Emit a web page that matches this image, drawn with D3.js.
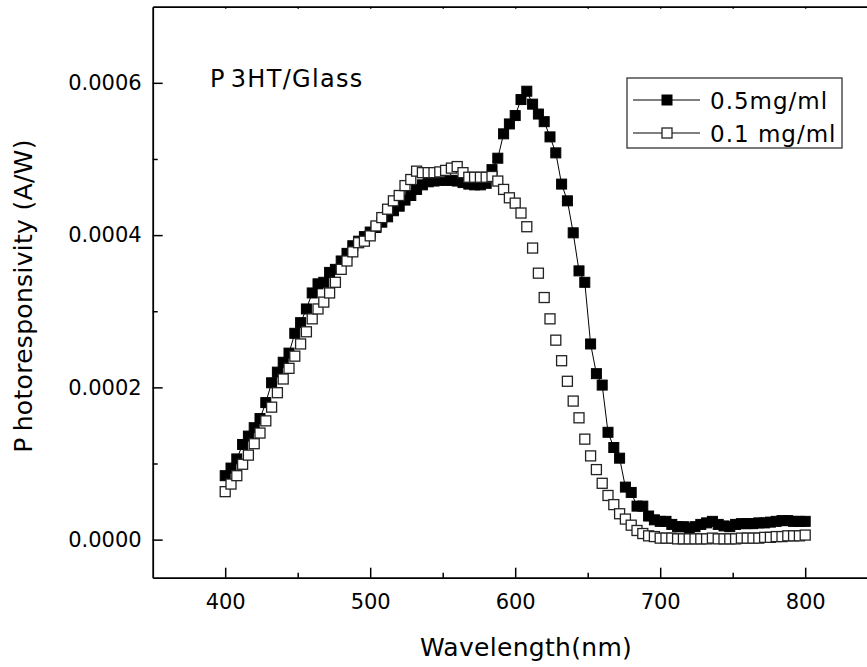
<!DOCTYPE html>
<html>
<head>
<meta charset="utf-8">
<script src="https://cdn.jsdelivr.net/npm/d3@7/dist/d3.min.js"></script>
<style>
    body { margin: 0; background: #fff; }
    text { font-family: "DejaVu Sans", Verdana, sans-serif; fill: #000; }
</style>
</head>
<body>
<svg id="chart" width="867" height="667"></svg>
<script>
// Wavelength grid (nm)
const wavelengths = [
    400, 404, 408, 412, 416, 420, 424, 428, 432, 436,
    440, 444, 448, 452, 456, 460, 464, 468, 472, 476,
    480, 484, 488, 492, 496, 500, 504, 508, 512, 516,
    520, 524, 528, 532, 536, 540, 544, 548, 552, 556,
    560, 564, 568, 572, 576, 580, 584, 588, 592, 596,
    600, 604, 608, 612, 616, 620, 624, 628, 632, 636,
    640, 644, 648, 652, 656, 660, 664, 668, 672, 676,
    680, 684, 688, 692, 696, 700, 704, 708, 712, 716,
    720, 724, 728, 732, 736, 740, 744, 748, 752, 756,
    760, 764, 768, 772, 776, 780, 784, 788, 792, 796,
    800
];

// Photoresponsivity in units of 1e-6 A/W
const conc05 = [
    84, 94, 106, 125, 136, 147, 159, 180, 206, 220,
    233, 245, 271, 285, 303, 324, 336, 338, 351, 355,
    366, 376, 386, 392, 398, 404, 410, 417, 424, 432,
    438, 446, 452, 460, 466, 470, 471, 472, 472, 472,
    471, 469, 467, 466, 466, 468, 486, 501, 533, 546,
    557, 578, 589, 572, 559, 549, 529, 508, 467, 445,
    403, 353, 338, 257, 218, 203, 141, 121, 107, 69,
    62, 44, 44, 31, 26, 24, 24, 20, 17, 17,
    15, 17, 20, 22, 24, 20, 18, 17, 20, 21,
    21, 21, 22, 22, 23, 24, 25, 25, 24, 24,
    24
];

const conc01 = [
    63, 73, 84, 99, 111, 126, 140, 156, 174, 193,
    211, 225, 241, 257, 273, 290, 303, 312, 324, 338,
    355, 366, 378, 390, 392, 399, 412, 423, 434, 445,
    452, 465, 473, 484, 482, 482, 482, 483, 485, 488,
    490, 482, 476, 476, 476, 476, 477, 471, 460, 449,
    442, 429, 411, 383, 350, 318, 290, 262, 235, 208,
    182, 160, 132, 110, 92, 74, 58, 46, 34, 27,
    19, 12, 8, 5, 4, 2, 2, 2, 1, 1,
    1, 1, 1, 1, 2, 1, 1, 1, 1, 2,
    2, 2, 2, 3, 3, 4, 4, 5, 5, 5,
    6
];

const seriesNames = ["0.5mg/ml", "0.1 mg/ml"];
const xMajorTicks = [400, 500, 600, 700, 800];
const xMinorTicks = [450, 550, 650, 750];
const yMajorTicks = [0, 0.0002, 0.0004, 0.0006];
const yMinorTicks = [0.0001, 0.0003, 0.0005];

const dimensions = {
    width: 867,
    height: 667,
    left: 152.7,
    right: 877.7,
    top: 6.7,
    bottom: 577.7,
};

const svg = d3.select("#chart");

const xScale = d3.scaleLinear()
    .domain([350, 850])
    .range([dimensions.left, dimensions.right]);

const yScale = d3.scaleLinear()
    .domain([-0.00005, 0.0007])
    .range([dimensions.bottom, dimensions.top]);

// Build point rows
const rows05 = wavelengths.map((w, i) => ({ x: w, y: conc05[i] * 1e-6 }));
const rows01 = wavelengths.map((w, i) => ({ x: w, y: conc01[i] * 1e-6 }));

// Axes
function styleAxis(g, width) {
    g.selectAll("path.domain").attr("stroke", "#000").attr("stroke-width", width);
    g.selectAll(".tick line").attr("stroke", "#000").attr("stroke-width", 1.5);
}

// bottom axis: major ticks with labels
const xAxisG = svg.append("g")
    .attr("transform", `translate(0,${dimensions.bottom})`)
    .call(d3.axisBottom(xScale).tickValues(xMajorTicks).tickSize(-10).tickSizeOuter(0).tickPadding(16).tickFormat(d3.format("d")));
styleAxis(xAxisG, 1.8);
xAxisG.selectAll("text").style("font-size", "21px").attr("fill", "#000");

svg.append("g")
    .attr("transform", `translate(0,${dimensions.bottom})`)
    .call(d3.axisBottom(xScale).tickValues(xMinorTicks).tickSize(-5).tickSizeOuter(0).tickFormat(""))
    .call(g => g.select("path.domain").remove())
    .call(g => styleAxis(g, 1.8));

// top border with tiny ticks
svg.append("g")
    .attr("transform", `translate(0,${dimensions.top})`)
    .call(d3.axisTop(xScale).tickValues(xMajorTicks.concat(xMinorTicks)).tickSize(-2).tickSizeOuter(0).tickFormat(""))
    .call(g => styleAxis(g, 1.8));

// left axis
const yAxisG = svg.append("g")
    .attr("transform", `translate(${dimensions.left},0)`)
    .call(d3.axisLeft(yScale).tickValues(yMajorTicks).tickSize(-10).tickSizeOuter(0).tickPadding(11).tickFormat(d3.format(".4f")));
styleAxis(yAxisG, 1.8);
yAxisG.selectAll("text").style("font-size", "21px").attr("fill", "#000");

svg.append("g")
    .attr("transform", `translate(${dimensions.left},0)`)
    .call(d3.axisLeft(yScale).tickValues(yMinorTicks).tickSize(-5).tickSizeOuter(0).tickFormat(""))
    .call(g => g.select("path.domain").remove())
    .call(g => styleAxis(g, 1.8));

// Axis titles
const xTitle = svg.append("text")
    .attr("x", 526)
    .attr("y", 656)
    .attr("text-anchor", "middle")
    .style("font-size", "25px")
    .style("letter-spacing", "0.3px");
xTitle.text("Wavelength(nm)");

const yTitle = svg.append("text")
    .attr("transform", "translate(32,296) rotate(-90)")
    .attr("text-anchor", "middle")
    .style("font-size", "25px")
    .style("letter-spacing", "0.3px");
yTitle.append("tspan").text("P");
yTitle.append("tspan").attr("dx", 6).text("hotoresponsivity (A/W)");

// Panel label
const label = svg.append("text")
    .attr("x", 210)
    .attr("y", 87)
    .style("font-size", "24px")
    .style("letter-spacing", "1.3px");
label.append("tspan").text("P");
label.append("tspan").attr("dx", 5).text("3HT/Glass");

// Series 0.5 mg/ml: line + filled squares
const line = d3.line()
    .x(d => xScale(d.x))
    .y(d => yScale(d.y));

svg.append("path")
    .datum(rows05)
    .attr("d", line)
    .attr("fill", "none")
    .attr("stroke", "#000")
    .attr("stroke-width", 1);

const size = 10;

svg.append("g")
    .selectAll("rect")
    .data(rows05)
    .enter()
    .append("rect")
    .attr("x", d => xScale(d.x) - size / 2)
    .attr("y", d => yScale(d.y) - size / 2)
    .attr("width", size)
    .attr("height", size)
    .attr("fill", "#000")
    .attr("stroke", "#000")
    .attr("stroke-width", 1);

// Series 0.1 mg/ml: open squares
svg.append("g")
    .selectAll("rect")
    .data(rows01)
    .enter()
    .append("rect")
    .attr("x", d => xScale(d.x) - size / 2)
    .attr("y", d => yScale(d.y) - size / 2)
    .attr("width", size)
    .attr("height", size)
    .attr("fill", "#fff")
    .attr("stroke", "#222")
    .attr("stroke-width", 1.3);

// Legend
const legend = svg.append("g");
legend.append("rect")
    .attr("x", 627)
    .attr("y", 78)
    .attr("width", 215)
    .attr("height", 70)
    .attr("fill", "#fff")
    .attr("stroke", "#333")
    .attr("stroke-width", 1.3);

seriesNames.forEach((name, i) => {
    const y = 100 + i * 33;
    legend.append("line")
        .attr("x1", 633).attr("x2", 700)
        .attr("y1", y).attr("y2", y)
        .attr("stroke", "#000")
        .attr("stroke-width", 1);
    legend.append("rect")
        .attr("x", 667 - size / 2)
        .attr("y", y - size / 2)
        .attr("width", size)
        .attr("height", size)
        .attr("fill", i === 0 ? "#000" : "#fff")
        .attr("stroke", i === 0 ? "#000" : "#222")
        .attr("stroke-width", i === 0 ? 1 : 1.3);
    legend.append("text")
        .attr("x", 710)
        .attr("y", y + 8.5)
        .style("font-size", "23px")
        .style("letter-spacing", "1px")
        .text(name);
});
</script>
</body>
</html>
